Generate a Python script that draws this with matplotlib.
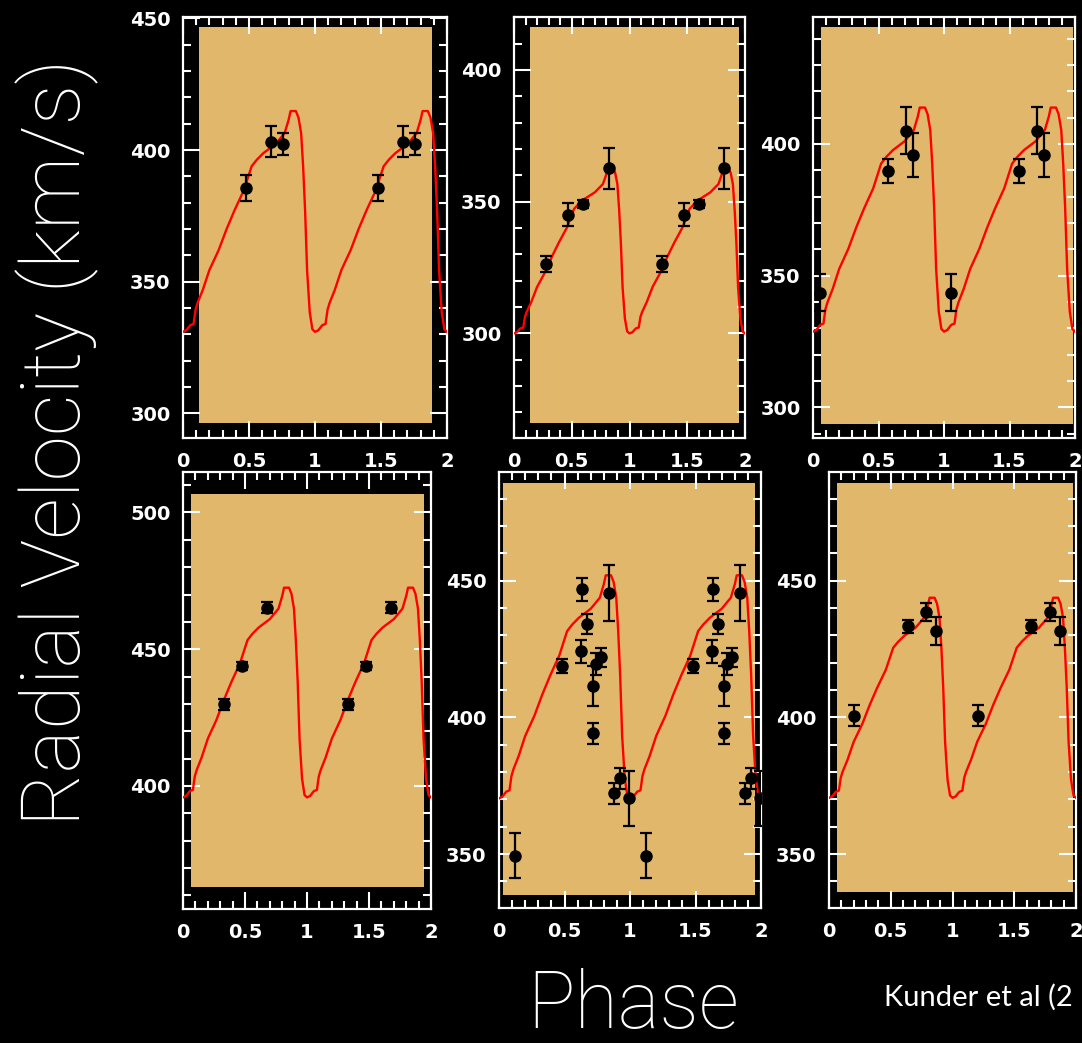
import matplotlib
matplotlib.use("Agg")
import matplotlib.pyplot as plt
from matplotlib.patches import Rectangle
from matplotlib.ticker import MultipleLocator, FuncFormatter
import numpy as np

# RV template (one cycle), normalised 0..1
template_phase = [0.00, 0.025, 0.055, 0.08, 0.095, 0.11, 0.15, 0.20, 0.27, 0.33,
                  0.39, 0.46, 0.52, 0.56, 0.61, 0.70, 0.77, 0.80, 0.815, 0.855,
                  0.875, 0.895, 0.91, 0.925, 0.94, 0.96, 0.98, 1.00]
template_rv = [0.0, 0.007, 0.030, 0.036, 0.10, 0.13, 0.19, 0.28, 0.37, 0.465,
               0.55, 0.64, 0.75, 0.78, 0.81, 0.85, 0.90, 0.96, 1.0, 1.0,
               0.97, 0.90, 0.75, 0.55, 0.28, 0.09, 0.012, 0.0]

# curve minimum / maximum (km/s) per star
curve_min = [331.0, 300.0, 328.7, 395.8, 370.4, 370.6]
curve_max = [414.8, 363.0, 413.8, 472.5, 452.0, 443.8]

# measured velocities per star: phase, rv, error
phase_1 = [0.476, 0.663, 0.754]
rv_1 = [385.7, 403.2, 402.3]
err_1 = [4.9, 5.8, 4.3]

phase_2 = [0.28, 0.47, 0.60, 0.82]
rv_2 = [326.3, 345.0, 349.2, 362.7]
err_2 = [3.0, 4.4, 1.5, 7.8]

phase_3 = [0.056, 0.57, 0.709, 0.765]
rv_3 = [343.5, 389.6, 405.0, 395.8]
err_3 = [6.9, 4.5, 9.0, 8.3]

phase_4 = [0.328, 0.474, 0.681]
rv_4 = [429.9, 443.9, 465.1]
err_4 = [2.0, 1.5, 2.0]

phase_5 = [0.122, 0.479, 0.629, 0.637, 0.67, 0.716, 0.72, 0.74, 0.775,
           0.843, 0.876, 0.925, 0.989]
rv_5 = [349.5, 418.9, 424.2, 446.9, 434.3, 411.6, 394.2, 419.5, 422.0,
        445.6, 372.2, 377.7, 370.4]
err_5 = [8.3, 2.6, 4.1, 4.3, 3.7, 7.3, 3.9, 4.0, 3.5, 10.2, 3.8, 3.8, 10.0]

phase_6 = [0.205, 0.638, 0.786, 0.868]
rv_6 = [400.7, 433.4, 438.5, 431.6]
err_6 = [4.0, 2.4, 3.2, 5.2]

points = [(phase_1, rv_1, err_1), (phase_2, rv_2, err_2), (phase_3, rv_3, err_3),
          (phase_4, rv_4, err_4), (phase_5, rv_5, err_5), (phase_6, rv_6, err_6)]

y_limits = [(290.7, 450.5), (260.3, 420.1), (288.3, 448.2),
            (355.0, 514.8), (330.3, 489.8), (330.3, 489.8)]

# layout in pixels: frame (x0, x1, y0, y1) and tan inset in axes fractions
W, H = 1082, 1043
frames = [(183, 447, 17, 438), (514, 745, 17, 438), (813, 1075, 17, 438),
          (183, 431, 472, 909), (499, 761, 472, 908), (829, 1076, 472, 908)]
insets = [(0.061, 0.943, 0.036, 0.976), (0.069, 0.974, 0.036, 0.976),
          (0.030, 0.992, 0.033, 0.976), (0.032, 0.972, 0.050, 0.950),
          (0.015, 0.977, 0.030, 0.975), (0.032, 0.988, 0.037, 0.975)]

TAN = '#E1B76C'

fig = plt.figure(figsize=(W / 100, H / 100), dpi=100, facecolor='black')

tp = np.array(template_phase)
tv = np.array(template_rv)
curve_phase = np.concatenate([tp, tp[1:] + 1])
curve_norm = np.concatenate([tv, tv[1:]])

for i in range(6):
    x0, x1, y0, y1 = frames[i]
    ax = fig.add_axes([x0 / W, 1 - y1 / H, (x1 - x0) / W, (y1 - y0) / H])
    ax.set_facecolor('black')
    l, r, b, t = insets[i]
    ax.add_patch(Rectangle((l, b), r - l, t - b, transform=ax.transAxes,
                           facecolor=TAN, edgecolor='none', zorder=0))

    vmin, vmax = curve_min[i], curve_max[i]
    ax.plot(curve_phase, vmin + curve_norm * (vmax - vmin), color='#FF0000',
            lw=1.7, zorder=3)

    ph, rv, er = points[i]
    ph2 = list(ph) + [p + 1 for p in ph]
    ax.errorbar(ph2, list(rv) * 2, yerr=list(er) * 2, fmt='o', color='black',
                ms=8, elinewidth=1.6, capsize=4.5, capthick=1.6, zorder=4)

    ax.set_xlim(0, 2)
    ax.set_ylim(*y_limits[i])
    ax.xaxis.set_major_locator(MultipleLocator(0.5))
    ax.xaxis.set_minor_locator(MultipleLocator(0.1))
    ax.yaxis.set_major_locator(MultipleLocator(50))
    ax.yaxis.set_minor_locator(MultipleLocator(10))
    ax.xaxis.set_major_formatter(FuncFormatter(lambda v, p: '%g' % v))
    ax.tick_params(which='both', direction='in', top=True, right=True,
                   color='white', width=1.5, labelcolor='white')
    ax.tick_params(which='major', length=12, labelsize=14)
    ax.tick_params(which='minor', length=5.5)
    ax.tick_params(axis='x', which='major', pad=10)
    ax.tick_params(axis='y', which='major', pad=9)
    for lab in ax.get_xticklabels() + ax.get_yticklabels():
        lab.set_fontweight('bold')
    for sp in ax.spines.values():
        sp.set_color('white')
        sp.set_linewidth(1.6)

light = dict(family=['Roboto', 'Open Sans', 'DejaVu Sans'], weight='light',
             color='white')
fig.text(57 / W, 1 - 442 / H, 'Radial Velocity (km/s)', rotation=90,
         ha='center', va='center', fontsize=59, **light)
fig.text(633 / W, 1 - 1028 / H, 'Phase', ha='center', va='baseline',
         fontsize=57, **light)
fig.text(884 / W, 1 - 1006 / H, 'Kunder et al (2', ha='left',
         va='baseline', fontsize=21, family=['Lato', 'DejaVu Sans'],
         weight='normal', color='white')

fig.savefig('out.png', dpi=100, facecolor='black')
